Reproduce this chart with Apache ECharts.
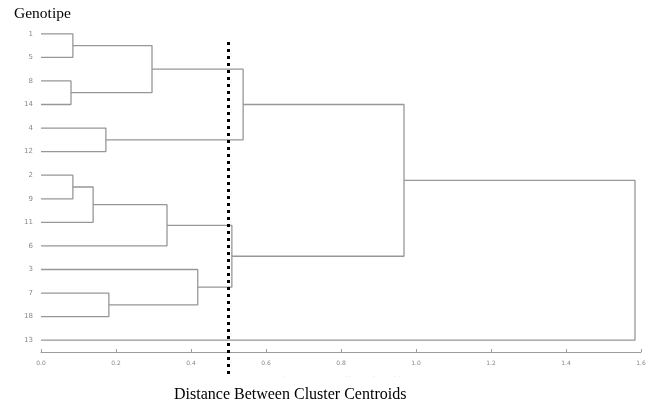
<!DOCTYPE html>
<html>
<head>
    <meta charset="utf-8">
    <title>Dendrogram</title>
    <script src="https://cdn.jsdelivr.net/npm/echarts@6/dist/echarts.min.js"></script>
    <style>
        html, body { margin: 0; padding: 0; background: #fff; }
    </style>
</head>
<body>
<div id="main" style="width: 658px;height:409px;"></div>
<script type="text/javascript">

        // leaves from top to bottom
        var leaves = ['1', '5', '8', '14', '4', '12', '2', '9', '11', '6', '3', '7', '18', '13'];
        // merges, linkage style: id < 14 is a leaf, id >= 14 is merge (id - 14)
        var mergeA = [0, 2, 14, 4, 16, 6, 19, 20, 11, 10, 21, 18, 25];
        var mergeB = [1, 3, 15, 5, 17, 7, 8, 9, 12, 22, 23, 24, 13];
        var mergeHeight = [0.085, 0.08, 0.296, 0.173, 0.539, 0.085, 0.139, 0.336, 0.181, 0.418, 0.509, 0.968, 1.584];
        var xTicks = [0, 0.2, 0.4, 0.6, 0.8, 1.0, 1.2, 1.4, 1.6];
        var cutoff = 0.5;

        var n = leaves.length;
        var nodeY = [], nodeH = [];
        for (var i = 0; i < n; i++) { nodeY.push(i); nodeH.push(0); }

        var series = [];
        for (var k = 0; k < mergeA.length; k++) {
            var a = mergeA[k], b = mergeB[k], h = mergeHeight[k];
            series.push({
                type: 'line',
                xAxisIndex: 0,
                yAxisIndex: 1,
                symbol: 'none',
                silent: true,
                lineStyle: { color: '#979797', width: 1.3 },
                data: [[nodeH[a], nodeY[a]], [h, nodeY[a]], [h, nodeY[b]], [nodeH[b], nodeY[b]]]
            });
            nodeY.push((nodeY[a] + nodeY[b]) / 2);
            nodeH.push(h);
        }

        // cut line
        series.push({
            type: 'line',
            xAxisIndex: 0,
            yAxisIndex: 1,
            symbol: 'none',
            silent: true,
            clip: false,
            z: 10,
            lineStyle: { color: '#000', width: 3, type: [3, 4], cap: 'butt' },
            data: [[cutoff, 0.35], [cutoff, 14.43]]
        });

        var option = {
            animation: false,
            backgroundColor: '#fff',
            title: [
                {
                    text: 'Genotipe',
                    left: 14, top: 6, padding: 0,
                    textStyle: { fontFamily: 'Liberation Serif', fontSize: 15.5, fontWeight: 'normal', color: '#000' }
                },
                {
                    text: 'Distance Between Cluster Centroids',
                    left: 174, top: 387, padding: 0,
                    textStyle: { fontFamily: 'Liberation Serif', fontSize: 16, fontWeight: 'normal', color: '#000' }
                }
            ],
            grid: { left: 41, right: 17, top: 22, height: 330 },
            xAxis: {
                type: 'value',
                min: 0, max: 1.6, interval: 0.2,
                name: 'Distance Between Cluster Centroids',
                nameLocation: 'middle',
                nameGap: 25,
                nameTextStyle: { fontFamily: 'DejaVu Sans', fontSize: 7, color: '#999' },
                splitLine: { show: false },
                axisLine: { onZero: false, lineStyle: { color: '#9c9c9c', width: 1 } },
                axisTick: { inside: true, length: 3, lineStyle: { color: '#9c9c9c' } },
                axisLabel: {
                    fontFamily: 'DejaVu Sans', fontSize: 6, color: '#888', margin: 8,
                    formatter: function (v) { return xTicks.indexOf(+v.toFixed(1)) >= 0 ? v.toFixed(1) : ''; }
                }
            },
            yAxis: [
                {
                    type: 'category',
                    data: leaves,
                    inverse: true,
                    axisLine: { show: false },
                    axisTick: { show: false },
                    splitLine: { show: false },
                    axisLabel: { fontFamily: 'DejaVu Sans', fontSize: 7, color: '#888', margin: 8 }
                },
                {
                    type: 'value',
                    min: -0.5, max: 13.5,
                    inverse: true,
                    show: false
                }
            ],
            graphic: [
                {
                    type: 'rect', z: 100,
                    left: 230, top: 377,
                    shape: { width: 230, height: 8 },
                    style: { fill: '#fff' }
                }
            ],
            series: series
        };

        var myChart = echarts.init(document.getElementById('main'));
        myChart.setOption(option);

</script>
</body>
</html>
